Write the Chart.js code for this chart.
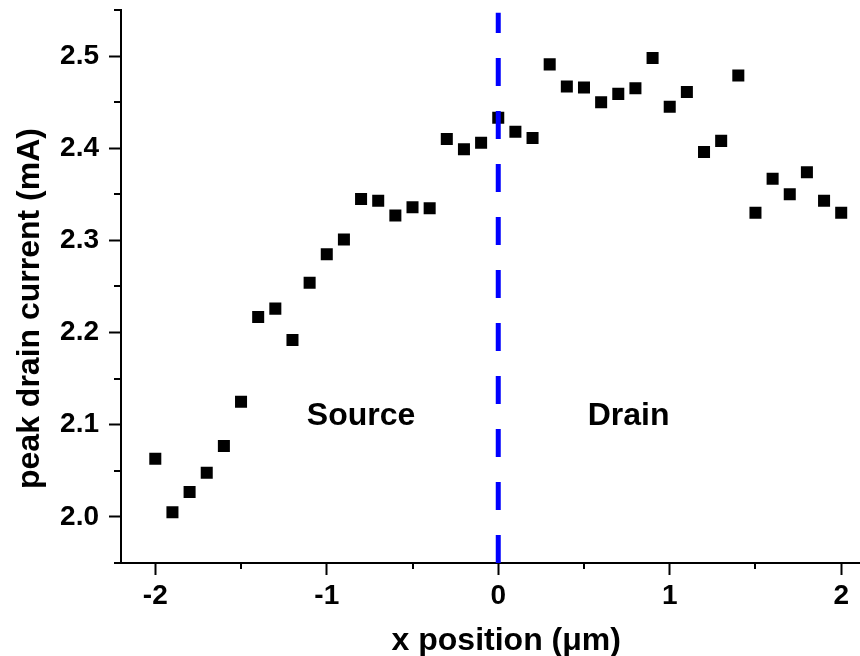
<!DOCTYPE html>
<html>
<head>
<meta charset="utf-8">
<script src="https://cdn.jsdelivr.net/npm/chart.js@4.4.1/dist/chart.umd.min.js"></script>
<style>
  html, body { margin: 0; padding: 0; background: #fff; overflow: hidden; }
  #wrap { width: 884px; height: 670px; }
</style>
</head>
<body>
<div id="wrap"><canvas id="grafica" width="884" height="670"></canvas></div>
<script>
// x position (um) and peak drain current (mA)
const xPos = [-2.0, -1.9, -1.8, -1.7, -1.6, -1.5, -1.4, -1.3, -1.2, -1.1,
              -1.0, -0.9, -0.8, -0.7, -0.6, -0.5, -0.4, -0.3, -0.2, -0.1,
               0.0,  0.1,  0.2,  0.3,  0.4,  0.5,  0.6,  0.7,  0.8,  0.9,
               1.0,  1.1,  1.2,  1.3,  1.4,  1.5,  1.6,  1.7,  1.8,  1.9, 2.0];
const current = [2.063, 2.005, 2.027, 2.048, 2.077, 2.125, 2.217, 2.226, 2.192, 2.254,
                 2.285, 2.301, 2.345, 2.343, 2.327, 2.336, 2.335, 2.410, 2.399, 2.406,
                 2.433, 2.418, 2.411, 2.491, 2.467, 2.466, 2.450, 2.459, 2.465, 2.498,
                 2.445, 2.461, 2.396, 2.408, 2.479, 2.330, 2.367, 2.350, 2.374, 2.343, 2.330];

// source/drain boundary (dashed line)
const boundaryX = [0, 0];
const boundaryY = [1.95, 2.547];

// region labels
const regionText = ['Source', 'Drain'];
const regionX = [-0.8, 0.76];
const regionY = [2.1, 2.1];

// axes
const xTicks = [-2, -1, 0, 1, 2];
const xMinor = [-1.5, -0.5, 0.5, 1.5];
const yTicks = [2.0, 2.1, 2.2, 2.3, 2.4, 2.5];
const yMinor = [1.95, 2.05, 2.15, 2.25, 2.35, 2.45, 2.55];
const xTitle = 'x position (\u03bcm)';
const yTitle = 'peak drain current (mA)';

const FONT = "'Liberation Sans', Arial, Helvetica, sans-serif";

// minor ticks, axis titles and the Source / Drain labels
const extras = {
  id: 'extras',
  afterDraw(chart) {
    const ctx = chart.ctx;
    const area = chart.chartArea;
    const x = chart.scales.x;
    const y = chart.scales.y;

    ctx.save();
    ctx.strokeStyle = '#000';
    ctx.lineWidth = 2;
    ctx.beginPath();
    xMinor.forEach(v => {
      const px = Math.round(x.getPixelForValue(v));
      ctx.moveTo(px, area.bottom);
      ctx.lineTo(px, area.bottom + 6);
    });
    yMinor.forEach(v => {
      const py = Math.round(y.getPixelForValue(v));
      ctx.moveTo(area.left, py);
      ctx.lineTo(area.left - 7, py);
    });
    ctx.stroke();

    ctx.fillStyle = '#000';
    ctx.font = 'bold 32px ' + FONT;
    ctx.textAlign = 'center';
    ctx.textBaseline = 'alphabetic';

    regionText.forEach((t, i) => {
      ctx.fillText(t, x.getPixelForValue(regionX[i]), y.getPixelForValue(regionY[i]));
    });

    ctx.fillText(xTitle, (area.left + area.right) / 2 + 8, area.bottom + 87);

    ctx.translate(area.left - 82, (area.top + area.bottom) / 2 + 22);
    ctx.rotate(-Math.PI / 2);
    ctx.fillText(yTitle, 0, 0);
    ctx.restore();
  }
};

const graph = document.querySelector('#grafica');

const data = {
  datasets: [
    {
      type: 'line',
      label: 'boundary',
      data: boundaryX.map((v, i) => ({x: v, y: boundaryY[i]})),
      borderColor: '#0000ff',
      borderWidth: 5,
      borderDash: [28, 25],
      pointRadius: 0,
      fill: false,
      order: 0
    },
    {
      type: 'scatter',
      label: 'peak drain current',
      data: xPos.map((v, i) => ({x: v, y: current[i]})),
      pointStyle: 'rect',
      pointRadius: 8.5,
      pointBorderWidth: 0,
      backgroundColor: '#000',
      borderColor: '#000',
      order: 1
    }
  ]
};

const axisCommon = {
  grid: {
    display: true,
    drawOnChartArea: false,
    drawTicks: true,
    tickLength: 12,
    tickWidth: 2,
    tickColor: '#000'
  },
  border: { display: true, color: '#000', width: 2 }
};

const config = {
  type: 'scatter',
  data: data,
  options: {
    responsive: false,
    animation: false,
    devicePixelRatio: 1,
    events: [],
    layout: { padding: { top: 10, right: 1.5, left: 0, bottom: 0 } },
    plugins: {
      legend: { display: false },
      tooltip: { enabled: false }
    },
    scales: {
      x: Object.assign({}, axisCommon, {
        type: 'linear',
        position: 'bottom',
        min: -2.2,
        max: 2.2,
        afterBuildTicks: s => { s.ticks = xTicks.map(v => ({value: v})); },
        afterFit: s => { s.height = 107; s.paddingLeft = 0; s.paddingRight = 0; },
        ticks: {
          color: '#000',
          padding: 4,
          maxRotation: 0,
          autoSkip: false,
          font: { family: FONT, size: 28, weight: 'bold' },
          callback: v => String(v)
        }
      }),
      y: Object.assign({}, axisCommon, {
        type: 'linear',
        position: 'left',
        min: 1.95,
        max: 2.55,
        afterBuildTicks: s => { s.ticks = yTicks.map(v => ({value: v})); },
        afterFit: s => { s.width = 121; s.paddingTop = 0; s.paddingBottom = 0; },
        ticks: {
          color: '#000',
          padding: 10,
          autoSkip: false,
          font: { family: FONT, size: 28, weight: 'bold' },
          callback: v => v.toFixed(1)
        }
      })
    }
  },
  plugins: [extras]
};

new Chart(graph, config);
</script>
</body>
</html>
